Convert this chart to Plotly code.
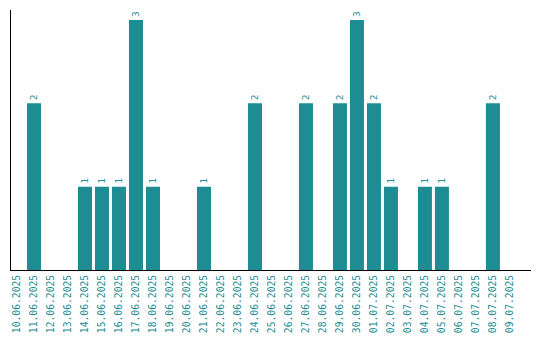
import plotly.graph_objects as go

dates = ["10.06.2025", "11.06.2025", "12.06.2025", "13.06.2025", "14.06.2025",
         "15.06.2025", "16.06.2025", "17.06.2025", "18.06.2025", "19.06.2025",
         "20.06.2025", "21.06.2025", "22.06.2025", "23.06.2025", "24.06.2025",
         "25.06.2025", "26.06.2025", "27.06.2025", "28.06.2025", "29.06.2025",
         "30.06.2025", "01.07.2025", "02.07.2025", "03.07.2025", "04.07.2025",
         "05.07.2025", "06.07.2025", "07.07.2025", "08.07.2025", "09.07.2025"]
counts = [0, 2, 0, 0, 1, 1, 1, 3, 1, 0,
          0, 1, 0, 0, 2, 0, 0, 2, 0, 2,
          3, 2, 1, 0, 1, 1, 0, 0, 2, 0]

teal = "#1e8c93"
font_family = "DejaVu Sans Mono"
labels = [str(v) if v > 0 else "" for v in counts]

fig = go.Figure(go.Bar(
    x=dates, y=counts, marker_color=teal, marker_line_width=0,
    text=labels, textposition="outside", textangle=-90,
    textfont=dict(family=font_family, size=9.5, color=teal),
    cliponaxis=False,
))
fig.update_layout(
    width=540, height=340,
    margin=dict(l=3, r=17, t=2, b=78),
    paper_bgcolor="white", plot_bgcolor="white",
    bargap=0.176, showlegend=False,
    font=dict(family=font_family, size=9.5, color=teal),
    uniformtext=dict(minsize=1, mode="show"),
)
fig.update_xaxes(type="category", range=[-0.353, 30.24], automargin=False,
                 tickangle=-90, showline=True, linecolor="black",
                 linewidth=1, ticks="", showgrid=False,
                 tickfont=dict(family=font_family, size=9.7, color=teal))
fig.update_yaxes(range=[0, 3.12], automargin=False, showline=True,
                 linecolor="black", linewidth=1,
                 showticklabels=False, ticks="", showgrid=False, zeroline=False)
fig.write_html("out.html")
